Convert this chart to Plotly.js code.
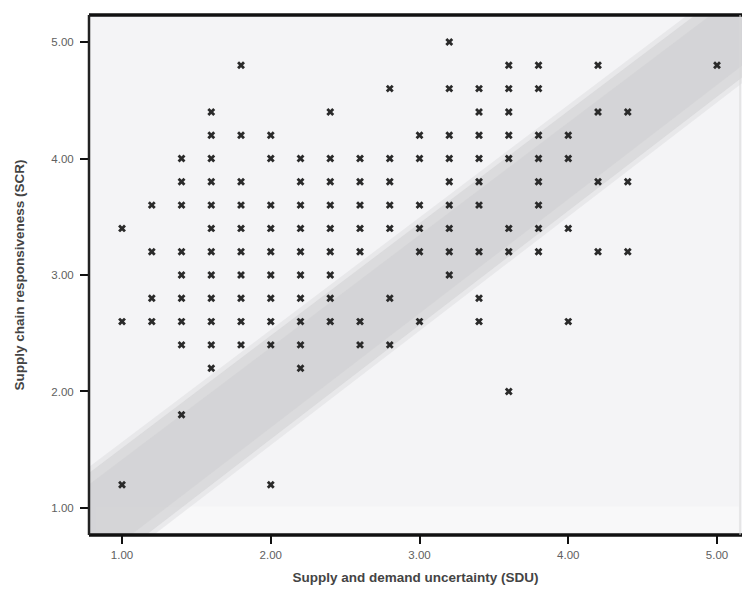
<!DOCTYPE html>
<html>
<head>
<meta charset="utf-8">
<script src="https://cdn.plot.ly/plotly-3.0.1.min.js"></script>
<style>
  html, body { margin: 0; padding: 0; background: #ffffff; }
  #chart { width: 742px; height: 597px; }
</style>
</head>
<body>
<div id="chart"></div>
<script>
// SCR levels (y) and the SDU values (x) observed at each level
const scrLevels = [5.0, 4.8, 4.6, 4.4, 4.2, 4.0, 3.8, 3.6, 3.4, 3.2, 3.0, 2.8, 2.6, 2.4, 2.2, 2.0, 1.8, 1.2];
const sdu_5_0 = [3.2];
const sdu_4_8 = [1.8, 3.6, 3.8, 4.2, 5.0];
const sdu_4_6 = [2.8, 3.2, 3.4, 3.6, 3.8];
const sdu_4_4 = [1.6, 2.4, 3.4, 3.6, 4.2, 4.4];
const sdu_4_2 = [1.6, 1.8, 2.0, 3.0, 3.2, 3.4, 3.6, 3.8, 4.0];
const sdu_4_0 = [1.4, 1.6, 2.0, 2.2, 2.4, 2.6, 2.8, 3.0, 3.2, 3.4, 3.6, 3.8, 4.0];
const sdu_3_8 = [1.4, 1.6, 1.8, 2.2, 2.4, 2.6, 2.8, 3.2, 3.4, 3.8, 4.2, 4.4];
const sdu_3_6 = [1.2, 1.4, 1.6, 1.8, 2.0, 2.2, 2.4, 2.6, 2.8, 3.0, 3.2, 3.4, 3.8];
const sdu_3_4 = [1.0, 1.6, 1.8, 2.0, 2.2, 2.4, 2.6, 2.8, 3.0, 3.2, 3.6, 3.8, 4.0];
const sdu_3_2 = [1.2, 1.4, 1.6, 1.8, 2.0, 2.2, 2.4, 2.6, 3.0, 3.2, 3.4, 3.6, 3.8, 4.2, 4.4];
const sdu_3_0 = [1.4, 1.6, 1.8, 2.0, 2.2, 2.4, 3.2];
const sdu_2_8 = [1.2, 1.4, 1.6, 1.8, 2.0, 2.2, 2.4, 2.8, 3.4];
const sdu_2_6 = [1.0, 1.2, 1.4, 1.6, 1.8, 2.0, 2.2, 2.4, 2.6, 3.0, 3.4, 4.0];
const sdu_2_4 = [1.4, 1.6, 1.8, 2.0, 2.2, 2.6, 2.8];
const sdu_2_2 = [1.6, 2.2];
const sdu_2_0 = [3.6];
const sdu_1_8 = [1.4];
const sdu_1_2 = [1.0, 2.0];
const sduRows = [sdu_5_0, sdu_4_8, sdu_4_6, sdu_4_4, sdu_4_2, sdu_4_0, sdu_3_8, sdu_3_6,
                 sdu_3_4, sdu_3_2, sdu_3_0, sdu_2_8, sdu_2_6, sdu_2_4, sdu_2_2, sdu_2_0, sdu_1_8, sdu_1_2];

const tickValues = [1, 2, 3, 4, 5];
const tickLabels = ['1.00', '2.00', '3.00', '4.00', '5.00'];

// shaded diagonal band edges (data units)
const bandUpperX = [0.87, 4.80];
const bandUpperY = [1.39, 5.18];
const bandLowerX = [1.235, 5.09];
const bandLowerY = [0.84, 4.62];

const xRange = [0.778, 5.168];
const yRange = [0.768, 5.232];

// build points
const xs = [], ys = [];
sduRows.forEach((row, i) => row.forEach(v => { xs.push(v); ys.push(scrLevels[i]); }));

function lineAt(xArr, yArr, x) {
  const s = (yArr[1] - yArr[0]) / (xArr[1] - xArr[0]);
  return yArr[0] + s * (x - xArr[0]);
}
function xAt(xArr, yArr, y) {
  const s = (yArr[1] - yArr[0]) / (xArr[1] - xArr[0]);
  return xArr[0] + (y - yArr[0]) / s;
}
function bandPath(expand) {
  const [x0, x1] = xRange, [y0, y1] = yRange;
  const uY = bandUpperY.map(v => v + expand);
  const lY = bandLowerY.map(v => v - expand);
  const uLeft = lineAt(bandUpperX, uY, x0);
  const uTopX = xAt(bandUpperX, uY, y1);
  const lBotX = xAt(bandLowerX, lY, y0);
  const lRight = lineAt(bandLowerX, lY, x1);
  return `M ${x0},${Math.min(uLeft, y1)} L ${Math.min(uTopX, x1)},${y1} L ${x1},${y1} L ${x1},${Math.max(lRight, y0)} L ${Math.max(lBotX, x0)},${y0} L ${x0},${y0} Z`;
}

const shapes = [
  { type: 'path', xref: 'x', yref: 'y', path: bandPath(0.05), fillcolor: 'rgba(210,210,212,0.35)', line: { width: 0 }, layer: 'below' },
  { type: 'path', xref: 'x', yref: 'y', path: bandPath(0.0), fillcolor: 'rgba(205,205,207,0.5)', line: { width: 0 }, layer: 'below' },
  { type: 'path', xref: 'x', yref: 'y', path: bandPath(-0.1), fillcolor: 'rgba(200,200,202,0.35)', line: { width: 0 }, layer: 'below' },
  // lighter strip near the bottom of the plot area
  { type: 'rect', xref: 'paper', yref: 'paper', x0: 0.01, x1: 0.995, y0: 0.005, y1: 0.055, fillcolor: 'rgba(255,255,255,0.35)', line: { width: 0 }, layer: 'below' },
  // frame
  { type: 'line', xref: 'paper', yref: 'paper', x0: 0, x1: 1, y0: 1, y1: 1, line: { color: '#111', width: 3.5 } },
  { type: 'line', xref: 'paper', yref: 'paper', x0: 0, x1: 1, y0: 0, y1: 0, line: { color: '#111', width: 3.5 } },
  { type: 'line', xref: 'paper', yref: 'paper', x0: 0, x1: 0, y0: 0, y1: 1, line: { color: '#222', width: 2.5 } },
  { type: 'line', xref: 'paper', yref: 'paper', x0: 0.997, x1: 0.997, y0: 0, y1: 1, line: { color: '#d8d8d8', width: 1 } }
];

const trace = {
  x: xs, y: ys, type: 'scatter', mode: 'markers',
  marker: { symbol: 'x', size: 7, color: '#2a2a2a', line: { width: 0 } },
  hoverinfo: 'x+y'
};

const axisFont = { family: 'Liberation Sans, Arial, sans-serif', size: 11.5, color: '#606060' };
const titleFont = { family: 'Liberation Sans, Arial, sans-serif', size: 13.5, color: '#444', weight: 'bold' };

const layout = {
  width: 742, height: 597,
  margin: { l: 89, r: 0, t: 15, b: 62 },
  paper_bgcolor: '#ffffff',
  plot_bgcolor: '#f4f4f6',
  showlegend: false,
  xaxis: {
    range: xRange, tickvals: tickValues, ticktext: tickLabels,
    ticks: 'outside', ticklen: 8, tickwidth: 2, tickcolor: '#111',
    showgrid: false, zeroline: false, showline: false,
    tickfont: axisFont, ticklabelstandoff: 1,
    title: { text: 'Supply and demand uncertainty (SDU)', font: titleFont, standoff: 12 }
  },
  yaxis: {
    range: yRange, tickvals: tickValues, ticktext: tickLabels,
    ticks: 'outside', ticklen: 8, tickwidth: 2, tickcolor: '#111',
    showgrid: false, zeroline: false, showline: false,
    tickfont: axisFont, ticklabelstandoff: 4,
    title: { text: 'Supply chain responsiveness (SCR)', font: titleFont, standoff: 23 }
  },
  shapes: shapes
};

Plotly.newPlot('chart', [trace], layout, { displayModeBar: false, staticPlot: true });
</script>
</body>
</html>
